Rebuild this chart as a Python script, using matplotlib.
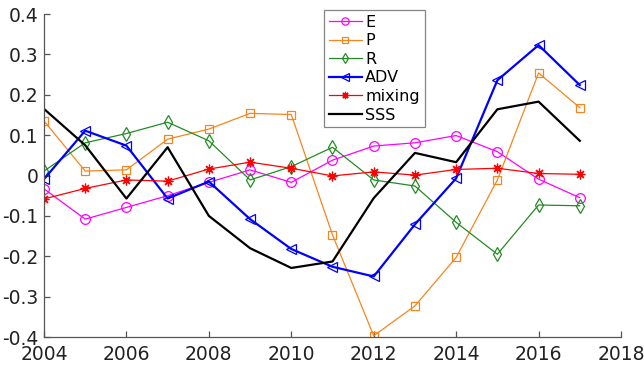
import matplotlib
matplotlib.use("Agg")
import matplotlib.pyplot as plt

years = list(range(2004, 2018))

E = [-0.033, -0.108, -0.079, -0.050, -0.017, 0.014, -0.017, 0.038, 0.073, 0.081, 0.099, 0.059, -0.009, -0.055]
P = [0.135, 0.011, 0.014, 0.090, 0.115, 0.154, 0.151, -0.147, -0.397, -0.323, -0.203, -0.011, 0.254, 0.168]
R = [0.011, 0.081, 0.104, 0.132, 0.086, -0.011, 0.022, 0.070, -0.011, -0.026, -0.116, -0.195, -0.073, -0.075]
ADV = [-0.009, 0.111, 0.074, -0.057, -0.015, -0.108, -0.182, -0.226, -0.250, -0.121, -0.007, 0.236, 0.323, 0.224]
mixing = [-0.058, -0.032, -0.011, -0.014, 0.016, 0.033, 0.018, -0.001, 0.009, 0.001, 0.015, 0.018, 0.005, 0.003]
SSS = [0.165, 0.075, -0.057, 0.070, -0.100, -0.180, -0.229, -0.213, -0.056, 0.056, 0.033, 0.164, 0.183, 0.086]

xticks = [2004, 2006, 2008, 2010, 2012, 2014, 2016, 2018]
yticks = [-0.4, -0.3, -0.2, -0.1, 0, 0.1, 0.2, 0.3, 0.4]
ytick_labels = ["-0.4", "-0.3", "-0.2", "-0.1", "0", "0.1", "0.2", "0.3", "0.4"]

fig = plt.figure(figsize=(6.44, 3.66), dpi=100)
ax = fig.add_axes([0.0683, 0.0792, 0.896, 0.8825])

ax.plot(years, E, color="#FF00FF", lw=0.9, marker="o", ms=7, mfc="none", mew=0.9, label="E")
ax.plot(years, P, color="#F7851E", lw=0.9, marker="s", ms=6, mfc="none", mew=0.9, label="P")
ax.plot(years, R, color="#238B23", lw=0.9, marker="d", ms=7, mfc="none", mew=0.9, label="R")
ax.plot(years, ADV, color="#0000FF", lw=1.6, marker="<", ms=7, mfc="none", mew=0.9, label="ADV")
ax.plot(years, mixing, color="#FF0000", lw=0.9, marker=(8, 2, 0), ms=7, mew=0.9, label="mixing")
ax.plot(years, SSS, color="black", lw=1.6, label="SSS")

ax.set_xlim(2004, 2018)
ax.set_ylim(-0.4, 0.4)
ax.set_xticks(xticks)
ax.set_xticklabels([str(t) for t in xticks])
ax.set_yticks(yticks)
ax.set_yticklabels(ytick_labels)

for s in ("top", "right"):
    ax.spines[s].set_visible(False)
for s in ("left", "bottom"):
    ax.spines[s].set_color("#555555")
    ax.spines[s].set_linewidth(0.9)
ax.tick_params(direction="in", length=4, width=0.9, color="#555555",
               labelsize=13.5, labelcolor="#222222")
ax.tick_params(axis="x", pad=6)
ax.tick_params(axis="y", pad=4)

leg = ax.legend(loc="upper left", bbox_to_anchor=(0.485, 1.012), fontsize=11.5,
                frameon=True, fancybox=False, edgecolor="#666666",
                handlelength=2.1, handletextpad=0.2, labelspacing=0.22,
                borderpad=0.3, borderaxespad=0, markerscale=0.75)
leg.get_frame().set_linewidth(0.9)

fig.savefig("out.png", dpi=100)
